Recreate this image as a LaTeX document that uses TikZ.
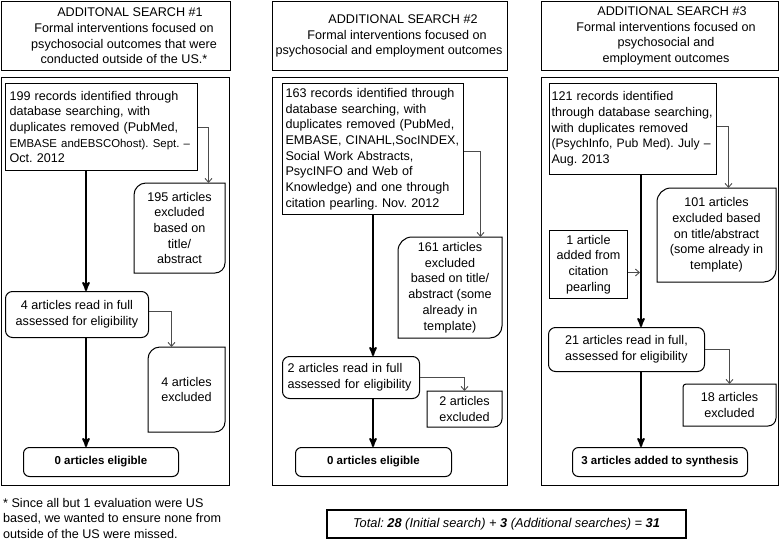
\documentclass[tikz,border=0pt]{standalone}
\usepackage{fontspec}
\setmainfont{Liberation Sans}
\usepackage{tikz}
\usetikzlibrary{arrows, arrows.meta, calc}
\frenchspacing

\newcommand{\docoutline}[3]{%
  \draw[box line] ([yshift=-#2pt]#1.north west) arc[start angle=180,end angle=90,radius=#2pt]
    -- (#1.north east) -- ([yshift=#3pt]#1.south east) arc[start angle=0,end angle=-90,radius=#3pt]
    -- (#1.south west) -- cycle;}

\begin{document}
\begin{tikzpicture}[x=1pt,y=-1pt,>=stealth',
  font=\fontsize{12.6}{15.7}\selectfont,
  box line/.style={line width=1pt},
  box/.style={draw,box line,inner xsep=5pt,inner ysep=2pt,anchor=north west},
  rec box/.style={box,align=left},
  round box/.style={box,rounded corners=7pt,align=center},
  doc box/.style={box,draw=none,align=center},
  end box/.style={box,rounded corners=6pt,align=center,font=\fontsize{11.5}{14}\selectfont\bfseries},
  panel/.style={draw,box line,anchor=north west},
  head text/.style={align=center,font=\fontsize{12.6}{15.6}\selectfont},
  main arrow/.style={->,line width=2pt},
  side arrow/.style={-{Straight Barb[length=4pt,width=7pt]},line width=0.9pt,black!70}]
  \useasboundingbox (0,0) rectangle (779,541);

  \node[panel, minimum width=229, minimum height=69] (h1) at (1,1) {};
  \node[head text] (h1t) at ([xshift=8pt]h1.center) {\hspace*{12pt}ADDITONAL SEARCH \#1\\Formal interventions focused on\\psychosocial outcomes that were\\conducted outside of the US.*};
  \node[panel, minimum width=235, minimum height=69] (h2) at (272,1) {};
  \node[head text] (h2t) at ([xshift=-1pt]h2.center) {\hspace*{28pt}ADDITIONAL SEARCH \#2\\\hspace*{16pt}Formal interventions focused on\\psychosocial and employment outcomes};
  \node[panel, minimum width=237, minimum height=69] (h3) at (541,1) {};
  \node[head text] (h3t) at ([xshift=6pt]h3.center) {\hspace*{12pt}ADDITIONAL SEARCH \#3\\Formal interventions focused on\\psychosocial and\\employment outcomes};

  \node[panel, minimum width=228, minimum height=408] (p1) at (1,77) {};
  \node[panel, minimum width=235, minimum height=408] (p2) at (272,77) {};
  \node[panel, minimum width=237, minimum height=408] (p3) at (541,77) {};

  \node[rec box, inner xsep=4pt, text width=184, minimum height=87] (r1) at (5,83)
    {199 records identified through\\database searching, with\\duplicates removed (PubMed,\\{\fontsize{11.4}{15.7}\selectfont EMBASE andEBSCOhost). Sept.~--}\\Oct. 2012};
  \node[doc box, minimum width=90, minimum height=89] (x1) at (134,183) {195 articles\\excluded\\based on\\title/\\abstract};
  \node[round box, minimum width=143, minimum height=46] (a1) at (5,291) {4 articles read in full\\assessed for eligibility};
  \node[doc box, minimum width=76, minimum height=84] (y1) at (148,347) {4 articles\\excluded};
  \node[end box, minimum width=155, minimum height=29] (e1) at (23,447) {0 articles eligible};

  \node[rec box, inner xsep=3pt, text width=175, minimum height=131] (r2) at (282,83)
    {163 records identified through\\database searching, with\\duplicates removed (PubMed,\\EMBASE, CINAHL,SocINDEX,\\Social Work Abstracts,\\PsycINFO and Web of\\Knowledge) and one through\\citation pearling. Nov. 2012};
  \node[doc box, minimum width=103, minimum height=100] (x2) at (398,237) {161 articles\\excluded\\based on title/\\abstract (some\\already in\\template)};
  \node[round box, align=left, text width=127, minimum height=42] (a2) at (282,356) {2 articles read in full\\assessed for eligibility};
  \node[doc box, minimum width=74, minimum height=35] (y2) at (427,391) {2 articles\\excluded};
  \node[end box, minimum width=156, minimum height=29] (e2) at (295,447) {0 articles eligible};

  \node[rec box, inner xsep=2pt, text width=163, minimum height=91] (r3) at (549,83)
    {121 records identified\\through database searching,\\with duplicates removed\\{\fontsize{12.2}{15.7}\selectfont (PsychInfo, Pub Med). July~--}\\Aug. 2013};
  \node[doc box, minimum width=118, minimum height=93] (x3) at (657,188) {101 articles\\excluded based\\on title/abstract\\(some already in\\template)};
  \node[box, align=center, minimum width=78, minimum height=68] (q3) at (549,230) {1 article\\added from\\citation\\pearling};
  \node[round box, minimum width=156, minimum height=44] (a3) at (548,327) {21 articles read in full,\\assessed for eligibility};
  \node[doc box, minimum width=92, minimum height=41] (y3) at (683,384) {18 articles\\excluded};
  \node[end box, minimum width=175, minimum height=29] (e3) at (572,447) {3 articles added to synthesis};

  \node[anchor=north west, inner sep=0pt, align=left, font=\fontsize{12.6}{15.5}\selectfont] (note) at (3,498)
    {* Since all but 1 evaluation were US\\based, we wanted to ensure none from\\outside of the US were missed.};
  \node[box, anchor=center, line width=1.8pt, minimum width=359, minimum height=28,
    font=\fontsize{12.8}{15}\selectfont\itshape] (tot) at (506.5,524)
    {Total: \textbf{28} (Initial search) + \textbf{3} (Additional searches) = \textbf{31}};

  \docoutline{x1}{12}{10}
  \docoutline{y1}{12}{10}
  \docoutline{x2}{14}{12}
  \docoutline{y2}{0.01}{8}
  \docoutline{x3}{14}{12}
  \docoutline{y3}{3}{8}

  \coordinate (c1) at (86,0);
  \coordinate (c3) at (641,0);
  \draw[main arrow] (c1 |- r1.south) -- (c1 |- a1.north);
  \draw[main arrow] (c1 |- a1.south) -- (c1 |- e1.north);
  \draw[main arrow] (r2.south) -- (r2.south |- a2.north);
  \draw[main arrow] (r2.south |- a2.south) -- (r2.south |- e2.north);
  \draw[main arrow] (c3 |- r3.south) -- (c3 |- a3.north);
  \draw[main arrow] (c3 |- a3.south) -- (c3 |- e3.north);

  \draw[side arrow] (r1.east) -| ([xshift=29pt]x1.north);
  \draw[side arrow] ([yshift=3pt]a1.east) -| ([xshift=-15pt]y1.north);
  \draw[side arrow] ([yshift=-2.5pt]r2.east) -| ([xshift=30.5pt]x2.north);
  \draw[side arrow] (a2.east) -| (y2.north);
  \draw[side arrow] ([yshift=2.5pt]r3.east) -| ([xshift=12pt]x3.north);
  \draw[side arrow] (a3.east) -| (y3.north);
  \draw[side arrow, shorten >=1pt] ([yshift=-8pt]q3.east) -- ([yshift=-8pt]q3.east -| c3);
\end{tikzpicture}
\end{document}
